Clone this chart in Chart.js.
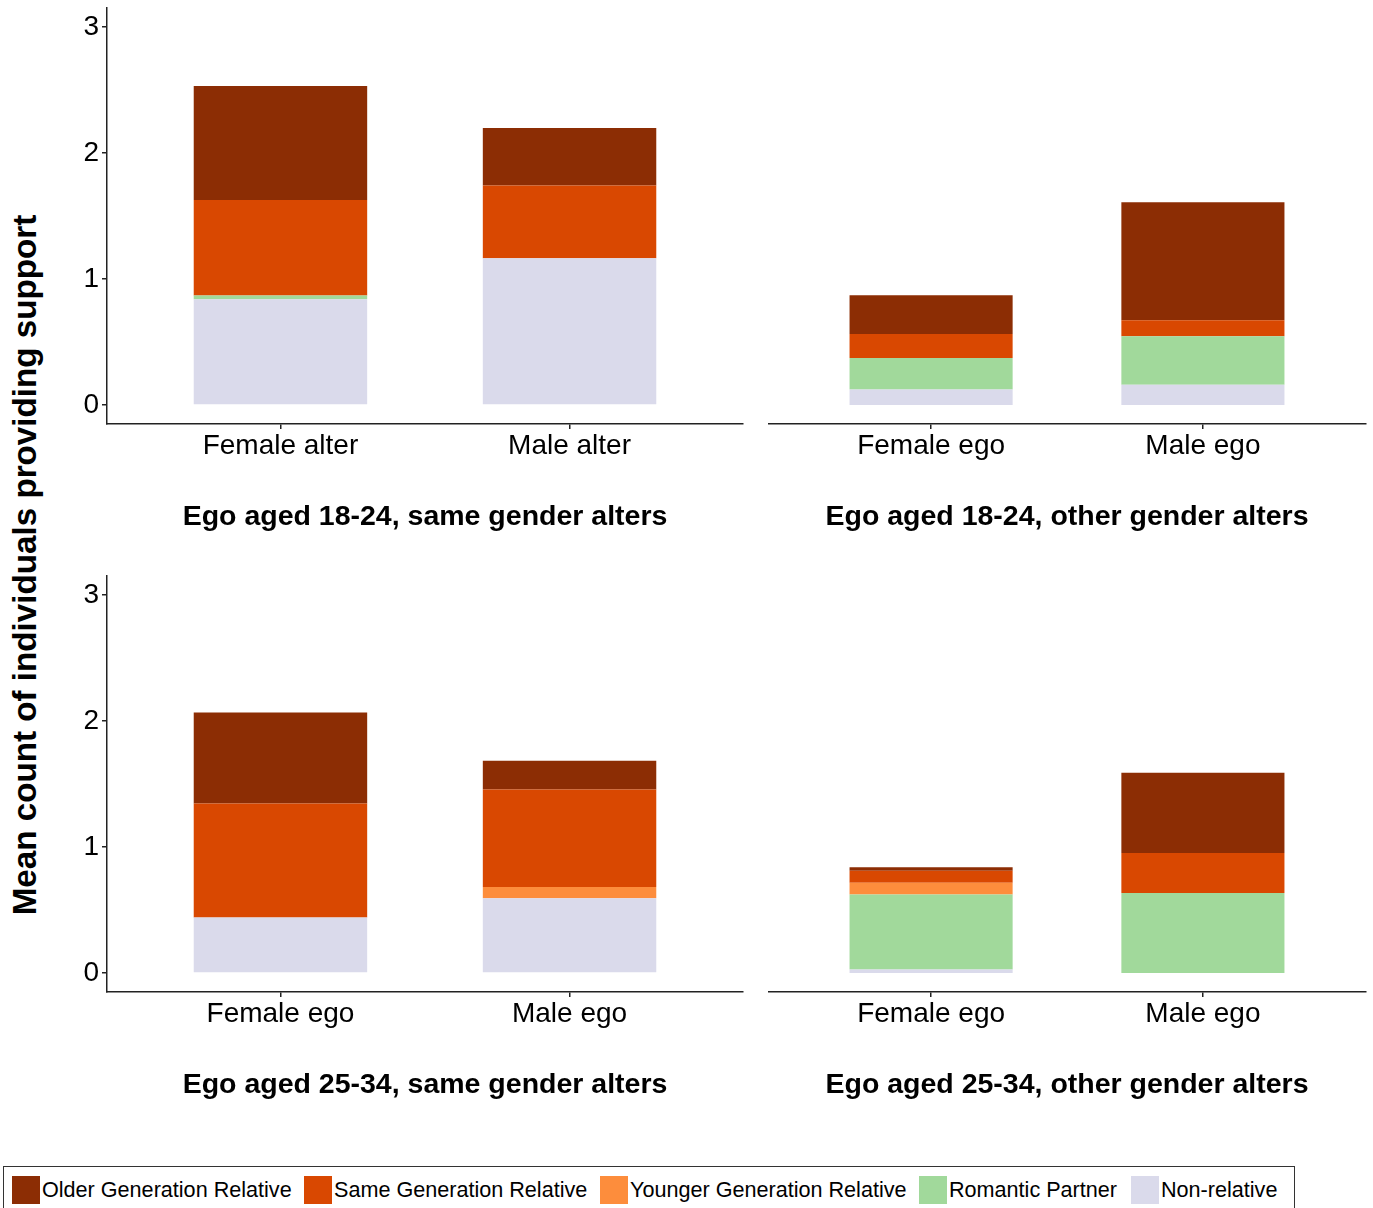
<!DOCTYPE html>
<html>
<head>
<meta charset="utf-8">
<script src="https://cdn.jsdelivr.net/npm/chart.js@4"></script>
<style>
  html, body { margin: 0; padding: 0; background: #fff; }
  body { width: 1373px; height: 1208px; position: relative; overflow: hidden; font-family: 'Liberation Sans', Arial, sans-serif; }
  .panel { position: absolute; }
  #ytitle { position: absolute; left: 25px; top: 565px; transform: translate(-50%, -50%) rotate(-90deg); white-space: nowrap; font-weight: bold; font-size: 33.2px; color: #000; }
  #legend { position: absolute; left: 3px; top: 1166px; width: 1292px; height: 60px; border: 1.5px solid #333; box-sizing: border-box; }
  .li { position: absolute; top: 9px; height: 28px; display: flex; align-items: center; font-size: 21.6px; color: #000; white-space: nowrap; }
  .sw { width: 28px; height: 28px; margin-right: 2px; }
</style>
</head>
<body>
<div class="panel" style="left:50px;top:0px;width:700px;height:545px"><canvas id="c1"></canvas></div>
<div class="panel" style="left:768px;top:0px;width:605px;height:545px"><canvas id="c2"></canvas></div>
<div class="panel" style="left:50px;top:568px;width:700px;height:545px"><canvas id="c3"></canvas></div>
<div class="panel" style="left:768px;top:568px;width:605px;height:545px"><canvas id="c4"></canvas></div>
<div id="ytitle">Mean count of individuals providing support</div>
<div id="legend"></div>
<script>
// ---- data ----
const seriesNames = ['Non-relative', 'Romantic Partner', 'Younger Generation Relative', 'Same Generation Relative', 'Older Generation Relative'];
const seriesColors = ['#dadaeb', '#a1d99b', '#fd8d3c', '#d94801', '#8c2d04'];
const legendOrder = ['Older Generation Relative', 'Same Generation Relative', 'Younger Generation Relative', 'Romantic Partner', 'Non-relative'];
const yTicks = [0, 1, 2, 3];

// Panel 1: Ego aged 18-24, same gender alters
const p1Title = 'Ego aged 18-24, same gender alters';
const p1Categories = ['Female alter', 'Male alter'];
const p1NonRelative = [0.84, 1.164];
const p1Romantic = [0.03, 0];
const p1Younger = [0, 0];
const p1Same = [0.757, 0.577];
const p1Older = [0.905, 0.457];

// Panel 2: Ego aged 18-24, other gender alters
const p2Title = 'Ego aged 18-24, other gender alters';
const p2Categories = ['Female ego', 'Male ego'];
const p2NonRelative = [0.124, 0.161];
const p2Romantic = [0.249, 0.386];
const p2Younger = [0, 0];
const p2Same = [0.19, 0.127];
const p2Older = [0.309, 0.936];

// Panel 3: Ego aged 25-34, same gender alters
const p3Title = 'Ego aged 25-34, same gender alters';
const p3Categories = ['Female ego', 'Male ego'];
const p3NonRelative = [0.44, 0.593];
const p3Romantic = [0, 0];
const p3Younger = [0, 0.09];
const p3Same = [0.905, 0.774];
const p3Older = [0.723, 0.227];

// Panel 4: Ego aged 25-34, other gender alters
const p4Title = 'Ego aged 25-34, other gender alters';
const p4Categories = ['Female ego', 'Male ego'];
const p4NonRelative = [0.028, 0];
const p4Romantic = [0.595, 0.636];
const p4Younger = [0.093, 0];
const p4Same = [0.095, 0.317];
const p4Older = [0.029, 0.636];

// ---- chart building ----
const FONT = "'Liberation Sans', Arial, sans-serif";
const AXIS_COLOR = '#222';

function zeroPad(scale) {
  scale.paddingTop = 0; scale.paddingBottom = 0; scale.paddingLeft = 0; scale.paddingRight = 0;
}

function makeChart(id, title, cats, series, showY) {
  const datasets = series.map((vals, s) => ({
    label: seriesNames[s],
    data: vals.map((v, i) => ({ x: i, y: v })),
    backgroundColor: seriesColors[s],
    borderWidth: 0,
    barPercentage: 0.6,
    categoryPercentage: 1.0
  }));
  return new Chart(document.getElementById(id), {
    type: 'bar',
    data: { datasets },
    options: {
      responsive: true,
      maintainAspectRatio: false,
      animation: false,
      layout: { padding: { top: 8, right: 7, left: 0, bottom: 0 } },
      plugins: { legend: { display: false }, tooltip: { enabled: false }, title: { display: false } },
      scales: {
        x: {
          type: 'linear',
          stacked: true,
          min: -0.6,
          max: cats.length - 1 + 0.6,
          offset: false,
          afterBuildTicks: (scale) => { scale.ticks = cats.map((c, i) => ({ value: i })); },
          afterFit: (scale) => { scale.height = 121; zeroPad(scale); },
          ticks: {
            callback: (v) => cats[v],
            color: '#000',
            font: { family: FONT, size: 28 },
            padding: 0,
            maxRotation: 0,
            autoSkip: false
          },
          grid: { display: true, offset: false, drawOnChartArea: false, drawTicks: true, tickLength: 5, color: AXIS_COLOR, lineWidth: 1.5 },
          border: { display: true, color: AXIS_COLOR, width: 1.5 },
          title: {
            display: true,
            text: title,
            color: '#000',
            font: { family: FONT, size: 28.5, weight: 'bold' },
            padding: { top: 0, bottom: 11 }
          }
        },
        y: {
          type: 'linear',
          stacked: true,
          display: showY,
          min: -0.15,
          max: 3.15,
          afterBuildTicks: (scale) => { scale.ticks = yTicks.map(v => ({ value: v })); },
          afterFit: (scale) => { scale.width = showY ? 57 : 0; zeroPad(scale); },
          ticks: {
            callback: (v) => String(v),
            color: '#000',
            font: { family: FONT, size: 28 },
            padding: 3
          },
          grid: { display: true, drawOnChartArea: false, drawTicks: true, tickLength: 5, color: AXIS_COLOR, lineWidth: 1.5 },
          border: { display: true, color: AXIS_COLOR, width: 1.5 }
        }
      }
    }
  });
}

makeChart('c1', p1Title, p1Categories, [p1NonRelative, p1Romantic, p1Younger, p1Same, p1Older], true);
makeChart('c2', p2Title, p2Categories, [p2NonRelative, p2Romantic, p2Younger, p2Same, p2Older], false);
makeChart('c3', p3Title, p3Categories, [p3NonRelative, p3Romantic, p3Younger, p3Same, p3Older], true);
makeChart('c4', p4Title, p4Categories, [p4NonRelative, p4Romantic, p4Younger, p4Same, p4Older], false);

// ---- legend ----
const legendX = [8, 300, 596, 915, 1127];
const legend = document.getElementById('legend');
legendOrder.forEach((name, k) => {
  const idx = seriesNames.indexOf(name);
  const item = document.createElement('div');
  item.className = 'li';
  item.style.left = legendX[k] + 'px';
  const sw = document.createElement('div');
  sw.className = 'sw';
  sw.style.background = seriesColors[idx];
  const tx = document.createElement('span');
  tx.textContent = name;
  item.appendChild(sw);
  item.appendChild(tx);
  legend.appendChild(item);
});
</script>
</body>
</html>
